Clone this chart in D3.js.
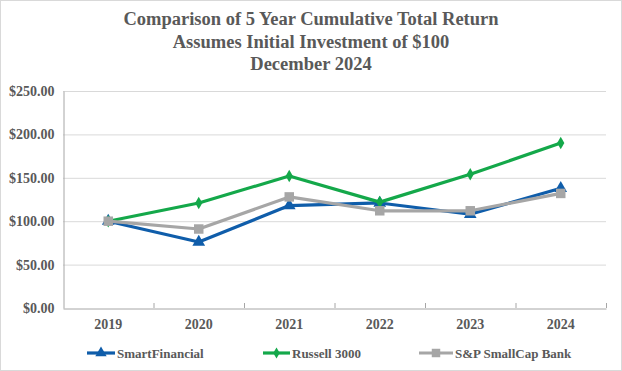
<!DOCTYPE html>
<html>
<head>
<meta charset="utf-8">
<script src="https://cdn.jsdelivr.net/npm/d3@7"></script>
<style>
  body { margin: 0; background: #fff; }
  svg { display: block; }
  text { font-family: "Liberation Serif", "Times New Roman", serif; font-weight: bold; fill: #595959; }
</style>
</head>
<body>
<svg id="chart"></svg>
<script>
const years = ["2019", "2020", "2021", "2022", "2023", "2024"]
const smartFinancial = [100, 76, 118, 121, 108, 138]
const russell3000 = [100, 121, 152, 122, 154, 190]
const spSmallCapBank = [100, 91, 128, 112, 112, 132]
const yTicks = [0, 50, 100, 150, 200, 250]
const titleLines = ["Comparison of 5 Year Cumulative Total Return", "Assumes Initial Investment of $100", "December 2024"]

const series = [
  { name: "SmartFinancial", values: smartFinancial, color: "#0F5DAA", marker: d3.symbolTriangle, size: 70 },
  { name: "Russell 3000", values: russell3000, color: "#14A84A", marker: d3.symbolDiamond, size: 45 },
  { name: "S&P SmallCap Bank", values: spSmallCapBank, color: "#A6A6A6", marker: d3.symbolSquare, size: 90 }
]

const width = 622, height = 371
const margin = { top: 91, right: 16, bottom: 63, left: 63 }

const svg = d3.select("#chart").attr("width", width).attr("height", height)

svg.append("rect")
  .attr("x", 0.5).attr("y", 0.5)
  .attr("width", width - 1).attr("height", height - 1)
  .attr("fill", "#fff").attr("stroke", "#d9d9d9")

svg.append("g")
  .selectAll("text")
  .data(titleLines)
  .join("text")
  .attr("x", 311)
  .attr("y", (d, i) => 25 + i * 22.5)
  .attr("text-anchor", "middle")
  .style("font-size", "18.5px")
  .text(d => d)

const x = d3.scaleBand()
  .domain(years)
  .range([margin.left, width - margin.right])

const y = d3.scaleLinear()
  .domain([0, 250])
  .range([height - margin.bottom, margin.top])

// gridlines
svg.append("g")
  .selectAll("line")
  .data(yTicks.slice(1))
  .join("line")
  .attr("x1", margin.left).attr("x2", width - margin.right)
  .attr("y1", d => y(d) + 0.5).attr("y2", d => y(d) + 0.5)
  .attr("stroke", "#d9d9d9")

// y axis
const yAxis = svg.append("g")
  .attr("transform", `translate(${margin.left + 0.5},0)`)
  .call(d3.axisLeft(y).tickValues(yTicks).tickSize(0).tickPadding(9).tickFormat(d => "$" + d3.format(".2f")(d)))
yAxis.select(".domain").attr("stroke", "#a6a6a6")
yAxis.selectAll("text").style("font-size", "14px").attr("fill", "#595959")

// x axis
const xAxis = svg.append("g")
  .attr("transform", `translate(0,${y(0) + 0.5})`)
  .call(d3.axisBottom(x).tickSize(0).tickPadding(11))
xAxis.select(".domain").attr("stroke", "#a6a6a6")
xAxis.selectAll("text").style("font-size", "14px").attr("fill", "#595959")

svg.append("g")
  .selectAll("line")
  .data(years.slice(1).concat(["end"]))
  .join("line")
  .attr("x1", (d, i) => (i < years.length - 1 ? x(d) : x.range()[1]) + 0.5)
  .attr("x2", (d, i) => (i < years.length - 1 ? x(d) : x.range()[1]) + 0.5)
  .attr("y1", y(0)).attr("y2", y(0) - 5)
  .attr("stroke", "#a6a6a6")

const line = d3.line()
  .x((d, i) => x(years[i]) + x.bandwidth() / 2)
  .y(d => y(d))

const seriesG = svg.append("g")
  .selectAll("g")
  .data(series)
  .join("g")

seriesG.append("path")
  .attr("d", s => line(s.values))
  .attr("fill", "none")
  .attr("stroke", s => s.color)
  .attr("stroke-width", 3.2)
  .attr("stroke-linejoin", "round")

seriesG.each(function (s) {
  d3.select(this).selectAll("path.marker")
    .data(s.values)
    .join("path")
    .attr("class", "marker")
    .attr("transform", (d, i) => `translate(${x(years[i]) + x.bandwidth() / 2},${y(d)})`)
    .attr("d", d3.symbol().type(s.marker).size(s.size))
    .attr("fill", s.color)
})

// legend
const legendX = [87, 263, 419]
const legendLen = [28, 27, 34]
const legend = svg.append("g")
  .selectAll("g")
  .data(series)
  .join("g")
  .attr("transform", (s, i) => `translate(${legendX[i]},353)`)

legend.append("line")
  .attr("x1", 0).attr("x2", (s, i) => legendLen[i])
  .attr("stroke", s => s.color).attr("stroke-width", 3.2)

legend.append("path")
  .attr("transform", (s, i) => `translate(${legendLen[i] / 2},0)`)
  .attr("d", s => d3.symbol().type(s.marker).size(s.size * 0.8)())
  .attr("fill", s => s.color)

legend.append("text")
  .attr("x", (s, i) => legendLen[i] + 2)
  .attr("dy", "0.35em")
  .style("font-size", "13px")
  .text(s => s.name)
</script>
</body>
</html>
